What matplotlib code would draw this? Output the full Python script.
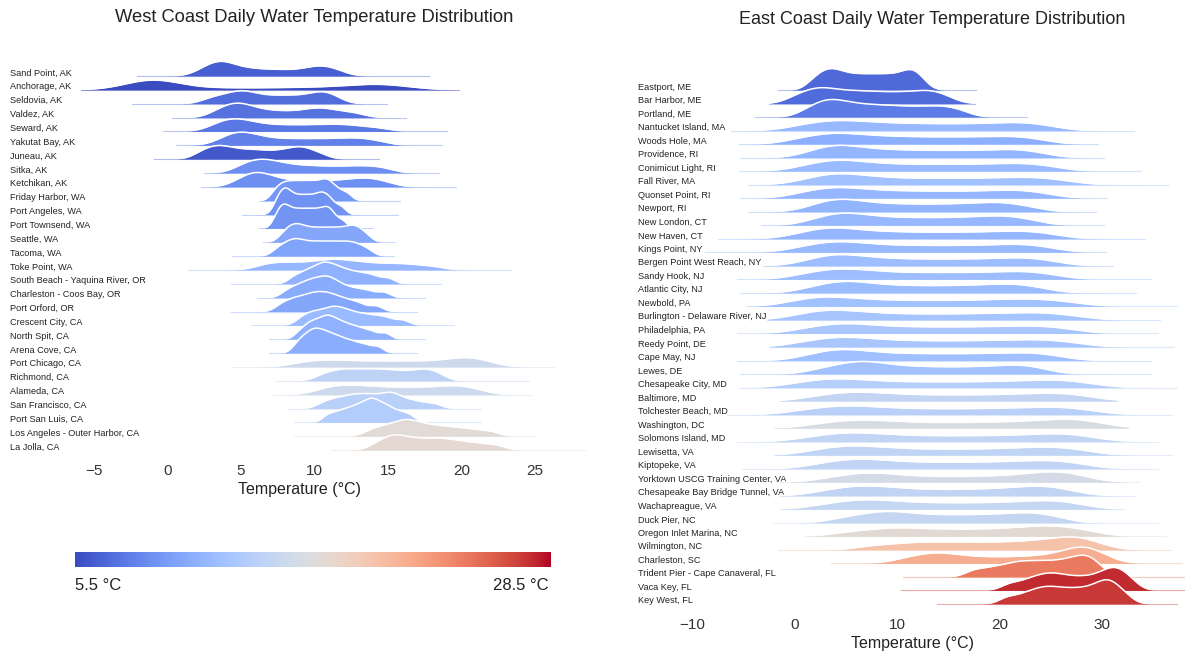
import numpy as np
import matplotlib
matplotlib.use("Agg")
import matplotlib.pyplot as plt
from matplotlib import transforms
from matplotlib.colors import Normalize
from matplotlib.cm import ScalarMappable

plt.rcParams['font.family'] = ['Liberation Sans', 'DejaVu Sans']

# ---- West Coast stations: typical daily temperatures (quantiles) + observed extremes
west_names = ["Sand Point, AK", "Anchorage, AK", "Seldovia, AK", "Valdez, AK", "Seward, AK",
              "Yakutat Bay, AK", "Juneau, AK", "Sitka, AK", "Ketchikan, AK", "Friday Harbor, WA",
              "Port Angeles, WA", "Port Townsend, WA", "Seattle, WA", "Tacoma, WA", "Toke Point, WA",
              "South Beach - Yaquina River, OR", "Charleston - Coos Bay, OR", "Port Orford, OR",
              "Crescent City, CA", "North Spit, CA", "Arena Cove, CA", "Port Chicago, CA",
              "Richmond, CA", "Alameda, CA", "San Francisco, CA", "Port San Luis, CA",
              "Los Angeles - Outer Harbor, CA", "La Jolla, CA"]
west_temps = [
    [2.3, 2.9, 3.3, 3.6, 3.9, 4.3, 4.9, 5.6, 6.4, 7.3, 8.2, 9.2, 9.9, 10.4, 10.9, 11.6],
    [-2.0, -1.6, -1.3, -1.1, -0.9, -0.6, -0.2, 1.5, 4.5, 7.5, 10.0, 12.0, 13.4, 14.2, 14.9, 15.8],
    [2.8, 3.6, 4.2, 4.7, 5.1, 5.5, 6.0, 6.7, 7.4, 8.1, 8.8, 9.5, 10.1, 10.5, 10.9, 11.5],
    [3.3, 3.9, 4.3, 4.7, 5.0, 5.4, 5.9, 6.6, 7.4, 8.3, 9.2, 9.9, 10.4, 11.0, 11.8, 12.8],
    [3.2, 3.8, 4.2, 4.6, 5.0, 5.5, 6.1, 6.9, 7.8, 8.7, 9.6, 10.5, 11.3, 12.1, 13.0, 14.3],
    [3.7, 4.3, 4.7, 5.0, 5.4, 5.9, 6.5, 7.3, 8.2, 9.1, 10.0, 10.9, 11.8, 12.6, 13.3, 14.3],
    [2.2, 2.8, 3.2, 3.6, 4.0, 4.5, 5.1, 5.7, 6.3, 7.0, 7.7, 8.3, 8.8, 9.2, 9.6, 10.4],
    [4.9, 5.5, 5.9, 6.3, 6.7, 7.1, 7.6, 8.2, 8.9, 9.7, 10.5, 11.4, 12.3, 13.1, 13.9, 14.8],
    [4.9, 5.4, 5.8, 6.1, 6.4, 6.8, 7.4, 8.2, 9.1, 10.1, 11.1, 12.0, 12.8, 13.4, 14.0, 14.8],
    [7.3, 7.7, 8.0, 8.3, 8.6, 8.9, 9.2, 9.5, 9.8, 10.1, 10.4, 10.7, 10.9, 11.2, 11.6, 12.2],
    [7.4, 7.7, 7.9, 8.1, 8.3, 8.6, 8.9, 9.2, 9.5, 9.8, 10.1, 10.4, 10.6, 10.9, 11.2, 11.8],
    [7.4, 7.7, 7.9, 8.1, 8.4, 8.7, 9.0, 9.3, 9.6, 9.9, 10.2, 10.5, 10.8, 11.0, 11.3, 11.9],
    [7.9, 8.3, 8.6, 8.9, 9.2, 9.6, 10.0, 10.4, 10.8, 11.2, 11.6, 12.0, 12.4, 12.7, 13.0, 13.5],
    [7.5, 8.0, 8.4, 8.7, 9.0, 9.4, 9.8, 10.2, 10.6, 11.0, 11.4, 11.8, 12.2, 12.6, 13.0, 13.6],
    [6.5, 7.3, 8.0, 8.8, 9.6, 10.3, 10.9, 11.4, 11.9, 12.5, 13.2, 14.0, 14.9, 15.8, 16.7, 18.0],
    [8.6, 9.2, 9.6, 10.0, 10.3, 10.6, 10.8, 11.1, 11.4, 11.7, 12.1, 12.5, 13.0, 13.5, 14.1, 15.0],
    [8.1, 8.7, 9.1, 9.5, 9.8, 10.1, 10.4, 10.7, 10.9, 11.2, 11.5, 11.9, 12.4, 13.0, 13.7, 14.7],
    [7.7, 8.3, 8.7, 9.1, 9.5, 9.8, 10.1, 10.4, 10.7, 11.0, 11.3, 11.7, 12.1, 12.6, 13.2, 14.2],
    [9.1, 9.6, 10.0, 10.4, 10.8, 11.1, 11.4, 11.7, 12.0, 12.4, 12.8, 13.3, 13.8, 14.4, 15.0, 16.0],
    [9.0, 9.5, 9.8, 10.1, 10.4, 10.7, 10.9, 11.1, 11.4, 11.7, 12.0, 12.4, 12.8, 13.3, 13.9, 14.8],
    [8.8, 9.2, 9.5, 9.8, 10.0, 10.2, 10.5, 10.7, 11.0, 11.3, 11.6, 12.0, 12.4, 12.9, 13.5, 14.3],
    [9.0, 10.0, 10.8, 11.6, 12.5, 13.5, 14.5, 15.5, 16.5, 17.5, 18.5, 19.4, 20.0, 20.5, 21.0, 21.8],
    [10.5, 11.2, 11.7, 12.2, 12.7, 13.2, 13.7, 14.2, 14.7, 15.2, 15.8, 16.4, 17.0, 17.5, 17.9, 18.5],
    [10.4, 11.2, 11.8, 12.4, 13.0, 13.7, 14.4, 15.2, 16.0, 16.8, 17.6, 18.4, 19.1, 19.7, 20.3, 21.2],
    [10.6, 11.3, 11.8, 12.3, 12.7, 13.1, 13.5, 13.9, 14.3, 14.8, 15.1, 15.4, 15.8, 16.4, 17.1, 18.1],
    [10.9, 11.5, 12.0, 12.4, 12.8, 13.1, 13.4, 13.7, 13.9, 14.1, 14.4, 14.7, 15.0, 15.4, 15.9, 16.5],
    [13.8, 14.5, 15.0, 15.5, 15.9, 16.2, 16.5, 16.9, 17.3, 17.8, 18.3, 18.9, 19.5, 20.2, 21.0, 22.0],
    [14.2, 14.8, 15.2, 15.5, 15.9, 16.3, 16.8, 17.3, 17.8, 18.3, 18.8, 19.3, 19.9, 20.6, 21.4, 22.4],
]
west_lo = [-2.1, -5.9, -2.4, 0.3, -0.3, 0.6, -0.9, 2.5, 2.3, 6.3, 5.1, 6.2, 6.5, 4.4, 1.4,
           4.3, 6.1, 4.3, 5.7, 6.9, 6.9, 4.3, 7.4, 7.2, 8.2, 8.6, 8.6, 11.1]
west_hi = [17.8, 19.8, 14.9, 16.2, 19.0, 18.7, 14.4, 18.5, 19.6, 15.8, 15.7, 14.0, 15.5, 15.4, 23.4,
           18.6, 17.5, 17.0, 19.5, 17.5, 17.0, 26.3, 24.6, 24.7, 21.3, 21.3, 25.1, 28.4]

# ---- East Coast stations
east_names = ["Eastport, ME", "Bar Harbor, ME", "Portland, ME", "Nantucket Island, MA", "Woods Hole, MA",
              "Providence, RI", "Conimicut Light, RI", "Fall River, MA", "Quonset Point, RI", "Newport, RI",
              "New London, CT", "New Haven, CT", "Kings Point, NY", "Bergen Point West Reach, NY",
              "Sandy Hook, NJ", "Atlantic City, NJ", "Newbold, PA", "Burlington - Delaware River, NJ",
              "Philadelphia, PA", "Reedy Point, DE", "Cape May, NJ", "Lewes, DE", "Chesapeake City, MD",
              "Baltimore, MD", "Tolchester Beach, MD", "Washington, DC", "Solomons Island, MD",
              "Lewisetta, VA", "Kiptopeke, VA", "Yorktown USCG Training Center, VA",
              "Chesapeake Bay Bridge Tunnel, VA", "Wachapreague, VA", "Duck Pier, NC",
              "Oregon Inlet Marina, NC", "Wilmington, NC", "Charleston, SC",
              "Trident Pier - Cape Canaveral, FL", "Vaca Key, FL", "Key West, FL"]
east_temps = [
    [1.8, 2.6, 3.2, 3.7, 4.3, 5.0, 5.8, 6.6, 7.4, 8.2, 9.0, 9.8, 10.6, 11.2, 11.7, 12.3],
    [0.0, 1.2, 2.0, 2.7, 3.5, 4.4, 5.4, 6.4, 7.4, 8.5, 9.6, 10.7, 11.8, 12.8, 13.6, 14.8],
    [1.2, 2.3, 3.0, 3.6, 4.3, 5.1, 6.0, 7.0, 8.0, 9.1, 10.2, 11.4, 12.6, 13.8, 14.8, 16.2],
    [0.5, 2.2, 3.5, 4.6, 5.8, 7.2, 8.8, 10.5, 12.3, 14.2, 16.1, 18.0, 19.8, 21.4, 22.8, 24.5],
    [0.3, 2.0, 3.2, 4.2, 5.3, 6.6, 8.1, 9.7, 11.4, 13.2, 15.0, 16.8, 18.6, 20.3, 21.8, 23.6],
    [1.8, 3.0, 3.9, 4.7, 5.7, 7.0, 8.5, 10.1, 11.8, 13.6, 15.4, 17.2, 19.0, 20.6, 22.0, 23.7],
    [1.0, 2.6, 3.7, 4.6, 5.7, 7.1, 8.7, 10.5, 12.4, 14.3, 16.2, 18.1, 19.9, 21.5, 23.0, 24.9],
    [1.3, 2.8, 3.8, 4.7, 5.8, 7.2, 8.9, 10.8, 12.8, 14.8, 16.8, 18.8, 20.7, 22.4, 24.0, 26.0],
    [0.7, 2.3, 3.5, 4.5, 5.6, 7.0, 8.6, 10.3, 12.1, 13.9, 15.8, 17.6, 19.4, 21.0, 22.4, 24.2],
    [1.9, 3.2, 4.1, 4.9, 5.9, 7.2, 8.7, 10.3, 12.0, 13.7, 15.4, 17.0, 18.5, 19.8, 21.0, 22.8],
    [2.0, 3.4, 4.4, 5.2, 6.2, 7.5, 9.0, 10.6, 12.3, 14.0, 15.7, 17.3, 18.8, 20.1, 21.3, 23.0],
    [0.6, 2.1, 3.2, 4.1, 5.2, 6.6, 8.3, 10.1, 12.0, 14.0, 16.0, 17.9, 19.8, 21.5, 23.0, 24.8],
    [0.6, 2.3, 3.5, 4.5, 5.6, 7.0, 8.6, 10.4, 12.3, 14.2, 16.1, 18.0, 19.8, 21.4, 22.8, 24.6],
    [1.5, 2.9, 3.9, 4.8, 5.9, 7.3, 8.9, 10.7, 12.6, 14.5, 16.4, 18.3, 20.1, 21.7, 23.1, 24.9],
    [0.8, 2.5, 3.8, 4.8, 5.9, 7.3, 8.9, 10.7, 12.6, 14.5, 16.4, 18.3, 20.1, 21.7, 23.1, 25.0],
    [1.6, 3.2, 4.3, 5.2, 6.2, 7.5, 9.0, 10.7, 12.5, 14.3, 16.1, 17.8, 19.4, 20.8, 22.1, 23.8],
    [0.2, 1.6, 2.7, 3.9, 5.3, 7.0, 9.0, 11.1, 13.3, 15.5, 17.6, 19.6, 21.4, 23.0, 24.6, 26.8],
    [0.6, 2.1, 3.2, 4.3, 5.6, 7.2, 9.1, 11.2, 13.4, 15.6, 17.7, 19.7, 21.6, 23.3, 24.9, 27.0],
    [1.0, 2.8, 4.1, 5.2, 6.4, 7.9, 9.7, 11.6, 13.6, 15.6, 17.6, 19.5, 21.3, 23.0, 24.6, 26.6],
    [0.8, 2.6, 3.9, 5.0, 6.2, 7.7, 9.5, 11.5, 13.6, 15.7, 17.8, 19.8, 21.7, 23.4, 25.0, 27.1],
    [1.5, 3.0, 4.1, 5.0, 6.1, 7.5, 9.1, 10.9, 12.8, 14.7, 16.6, 18.5, 20.3, 22.0, 23.5, 25.3],
    [2.5, 4.2, 5.4, 6.3, 7.1, 8.1, 9.4, 10.9, 12.6, 14.4, 16.2, 18.0, 19.7, 21.2, 22.4, 23.9],
    [0.5, 2.3, 3.6, 4.8, 6.3, 8.1, 10.2, 12.5, 14.8, 17.1, 19.3, 21.4, 23.3, 25.0, 26.4, 28.2],
    [2.0, 3.9, 5.3, 6.5, 7.9, 9.6, 11.5, 13.6, 15.7, 17.8, 19.9, 21.8, 23.6, 25.2, 26.6, 28.4],
    [0.8, 2.8, 4.3, 5.5, 6.9, 8.6, 10.6, 12.8, 15.0, 17.2, 19.4, 21.4, 23.3, 25.0, 26.5, 28.3],
    [2.5, 4.5, 6.0, 7.4, 9.0, 11.0, 13.3, 15.7, 18.0, 20.2, 22.2, 24.0, 25.6, 26.9, 27.9, 29.4],
    [1.6, 3.5, 4.9, 6.1, 7.5, 9.2, 11.2, 13.4, 15.6, 17.8, 20.0, 22.0, 23.9, 25.5, 26.8, 28.5],
    [2.0, 3.8, 5.1, 6.2, 7.6, 9.3, 11.2, 13.3, 15.5, 17.6, 19.7, 21.6, 23.3, 24.8, 26.2, 28.0],
    [2.5, 4.3, 5.6, 6.7, 8.0, 9.6, 11.4, 13.4, 15.5, 17.5, 19.5, 21.3, 23.0, 24.5, 25.9, 27.7],
    [3.5, 5.5, 6.8, 7.8, 9.2, 11.0, 13.2, 15.5, 17.8, 19.9, 21.8, 23.4, 24.7, 25.7, 26.5, 28.0],
    [2.8, 4.7, 6.0, 7.1, 8.3, 9.8, 11.6, 13.6, 15.7, 17.7, 19.6, 21.3, 22.8, 24.0, 25.0, 26.6],
    [2.7, 4.7, 6.1, 7.2, 8.5, 10.0, 11.8, 13.8, 15.8, 17.8, 19.8, 21.6, 23.3, 24.7, 25.9, 27.6],
    [4.6, 6.5, 7.8, 8.8, 9.8, 11.0, 12.4, 14.0, 15.6, 17.2, 18.8, 20.3, 21.7, 22.9, 24.0, 25.6],
    [5.0, 7.4, 9.0, 10.4, 11.9, 13.6, 15.4, 17.2, 19.0, 20.7, 22.2, 23.5, 24.7, 25.8, 27.0, 28.8],
    [7.5, 10.0, 11.8, 13.4, 15.0, 16.7, 18.4, 20.1, 21.7, 23.2, 24.5, 25.7, 26.7, 27.5, 28.2, 29.5],
    [10.8, 12.6, 13.6, 14.6, 16.0, 17.8, 19.8, 21.8, 23.6, 25.2, 26.5, 27.4, 28.0, 28.5, 29.0, 30.0],
    [17.5, 19.0, 20.2, 21.2, 22.0, 22.8, 23.6, 24.4, 25.2, 26.0, 26.7, 27.4, 28.0, 28.5, 29.0, 29.8],
    [21.0, 22.5, 23.5, 24.3, 25.0, 25.7, 26.5, 27.4, 28.3, 29.2, 30.0, 30.6, 31.1, 31.6, 32.1, 32.9],
    [20.8, 22.3, 23.3, 24.1, 24.8, 25.5, 26.3, 27.1, 27.9, 28.7, 29.4, 30.0, 30.5, 30.9, 31.4, 32.3],
]
east_lo = [-1.7, -2.5, -3.9, -6.3, -5.5, -5.4, -5.5, -4.6, -5.4, -4.6, -3.3, -7.5, -8.8, -3.1, -5.7,
           -5.4, -4.8, -2.7, -5.7, -2.5, -5.7, -5.4, -5.4, -1.5, -6.6, -2.0, -5.7, -2.0, -5.2, -1.5,
           -1.5, -1.5, -2.1, 1.0, -1.7, 3.5, 10.6, 10.4, 13.9]
east_hi = [17.7, 17.6, 22.7, 33.1, 29.6, 30.2, 33.8, 36.6, 30.5, 29.4, 30.2, 34.2, 30.4, 31.1, 34.8,
           33.3, 37.3, 35.7, 35.5, 37.1, 34.8, 34.8, 37.3, 31.5, 36.9, 32.6, 35.7, 36.9, 35.5, 33.6,
           33.1, 32.2, 35.5, 36.3, 36.8, 37.8, 38.4, 38.0, 37.3]

cbar_min, cbar_max = 5.5, 28.5
west_ticks = [-5, 0, 5, 10, 15, 20, 25]
east_ticks = [-10, 0, 10, 20, 30]

cmap = plt.get_cmap('coolwarm')
norm = Normalize(cbar_min, cbar_max)

fig = plt.figure(figsize=(11.85, 6.52), dpi=100)


def kde(samples, grid):
    s = np.asarray(samples, dtype=float)
    bw = 0.25 * s.std(ddof=1)
    z = (grid[:, None] - s[None, :]) / bw
    return np.exp(-0.5 * z ** 2).sum(axis=1) / (len(s) * bw * np.sqrt(2 * np.pi))


def ridges(ax, names, temps, lo, hi, scale, label_x):
    trans = transforms.blended_transform_factory(fig.transFigure, ax.transData)
    for i, t in enumerate(temps):
        x = np.linspace(lo[i], hi[i], 500)
        y = kde(t, x) * scale
        c = cmap(norm(np.mean(t)))
        base = -i
        z = 10 + 3 * i
        ax.fill_between(x, base, base + y, color=c, lw=0, zorder=z, clip_on=False)
        ax.plot(x, base + y, color='white', lw=1.1, zorder=z + 1, clip_on=False)
        ax.plot(x, np.full_like(x, base), color=c, lw=0.8, alpha=0.4, zorder=z + 2, clip_on=False)
        ax.text(label_x, base + 0.22, names[i], transform=trans, fontsize=6.6,
                ha='left', va='center', color='#222222')


def style(ax, ticks, xlim, ylim):
    ax.set_xlim(*xlim)
    ax.set_ylim(*ylim)
    ax.set_xticks(ticks)
    ax.set_yticks([])
    for sp in ax.spines.values():
        sp.set_visible(False)
    ax.tick_params(axis='x', length=0, labelsize=11, labelcolor='#333333', pad=5)
    ax.set_xlabel('Temperature (°C)', fontsize=11.5, color='#222222', labelpad=3)
    ax.patch.set_alpha(0)


# left panel: x px = 167.5 + 14.7*T ; rows 13.85 px
axw = fig.add_axes([5.8 / 1185, 1 - 457 / 652, 588 / 1185, 417 / 652])
ridges(axw, west_names, west_temps, west_lo, west_hi, 7.0, 10 / 1185)
style(axw, west_ticks, (-11, 29), (-27.5, 2.6))

# right panel: x px = 795 + 10.23*T ; rows 13.53 px
axe = fig.add_axes([641.5 / 1185, 1 - 611 / 652, 542.2 / 1185, 571 / 652])
ridges(axe, east_names, east_temps, east_lo, east_hi, 15.5, 638 / 1185)
style(axe, east_ticks, (-15, 38), (-38.52, 3.7))

fig.text(314 / 1185, 1 - 18 / 652, 'West Coast Daily Water Temperature Distribution',
         ha='center', va='center', fontsize=13.2, color='#222222')
fig.text(932 / 1185, 1 - 20 / 652, 'East Coast Daily Water Temperature Distribution',
         ha='center', va='center', fontsize=13.0, color='#222222')

# colorbar
cax = fig.add_axes([75 / 1185, 1 - 567 / 652, 476 / 1185, 15 / 652])
cb = fig.colorbar(ScalarMappable(norm=norm, cmap=cmap), cax=cax, orientation='horizontal')
cb.set_ticks([])
cb.outline.set_visible(False)
fig.text(75 / 1185, 1 - 585 / 652, f'{cbar_min} °C', ha='left', va='center', fontsize=12, color='#222222')
fig.text(549 / 1185, 1 - 585 / 652, f'{cbar_max} °C', ha='right', va='center', fontsize=12, color='#222222')

fig.savefig('out.png', dpi=100)
